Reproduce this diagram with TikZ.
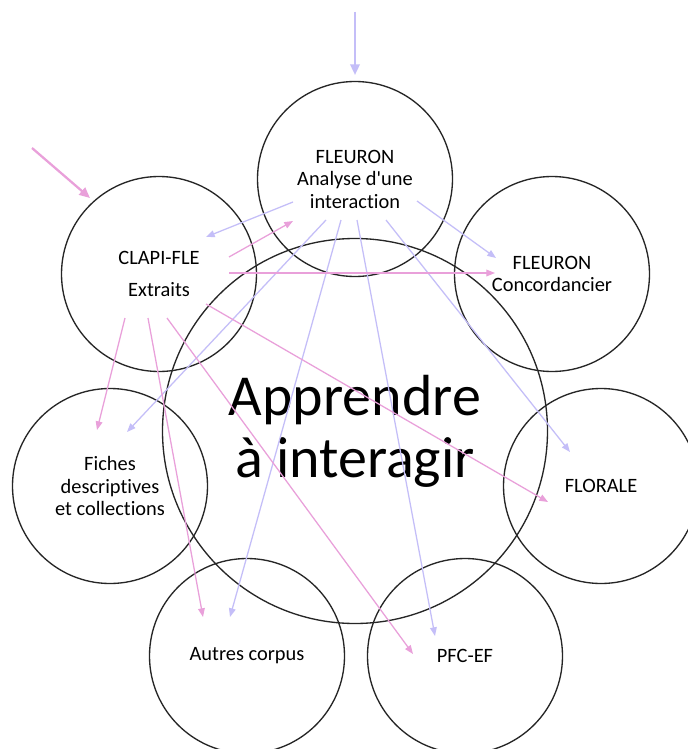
\documentclass[tikz,border=0pt]{standalone}
\usepackage{fontspec}
\setmainfont{Carlito}[Ligatures={NoCommon}]
\usetikzlibrary{arrows.meta}
\definecolor{lav}{RGB}{196,190,248}
\definecolor{pinkc}{RGB}{233,160,218}
\begin{document}
\begin{tikzpicture}[x=0.75pt,y=-0.75pt,
  bubble/.style={circle,draw=black!85,line width=1pt,minimum size=146.25pt,inner sep=0pt,
    align=center,font=\fontsize{15.3}{16.9}\selectfont},
  bigbubble/.style={circle,draw=black!85,line width=1pt,minimum size=288.75pt,inner sep=0pt,
    align=center,font=\fontsize{43.5}{46.5}\selectfont},
  lavarrow/.style={draw=lav,line width=0.95pt,-{Triangle[length=6.5pt,width=5pt]}},
  pinkarrow/.style={draw=pinkc,line width=0.95pt,-{Triangle[length=6.5pt,width=5pt]}},
  entry/.style={line width=1.7pt,-{Triangle[length=8pt,width=7pt]}}]
\useasboundingbox (0,0) rectangle (687,749);
\fill[white] (0,0) rectangle (687,749);
% circles
\node[bigbubble] (big) at (355,431) {Apprendre\\à interagir};
\node[bubble] (ana) at (355,179) {FLEURON\\Analyse d\textquotesingle une\\interaction};
\node[bubble] (conc) at (552,274) {FLEURON\\Concordancier};
\node[bubble] (clapi) at (159,274) {CLAPI-FLE\\[7.1pt]Extraits};
\node[bubble] (fiches) at (110,486) {\fontsize{15.3}{17.3}\selectfont Fiches\\descriptives\\et collections};
\node[bubble] (florale) at (601,486) {FLORALE};
\node[bubble] (autres) at (247,656) {Autres corpus};
\node[bubble] (pfc) at (465,656) {PFC-EF};
% lavender arrow end points
\coordinate (ls0) at (355,12);   \coordinate (le0) at (355,75);
\coordinate (ls1) at (293,202);  \coordinate (le1) at (206,237);
\coordinate (ls2) at (417,201);  \coordinate (le2) at (496,258);
\coordinate (ls3) at (326,220);  \coordinate (le3) at (127,432);
\coordinate (ls4) at (341,220);  \coordinate (le4) at (230,617);
\coordinate (ls5) at (357,220);  \coordinate (le5) at (435,636);
\coordinate (ls6) at (386,220);  \coordinate (le6) at (570,452);
% pink arrow end points
\coordinate (ps0) at (32,148);   \coordinate (pe0) at (90,198);
\coordinate (ps1) at (229,257);  \coordinate (pe1) at (293,221);
\coordinate (ps2) at (229,273);  \coordinate (pe2) at (495,273);
\coordinate (ps3) at (125,318);  \coordinate (pe3) at (97,430);
\coordinate (ps4) at (148,318);  \coordinate (pe4) at (203,617);
\coordinate (ps5) at (167,318);  \coordinate (pe5) at (413,654);
\coordinate (ps6) at (206,304);  \coordinate (pe6) at (548,502);
% arrows
\draw[lavarrow,entry] (ls0) -- (le0);
\foreach \i in {1,...,6} {\draw[lavarrow] (ls\i) -- (le\i);}
\draw[pinkarrow,entry] (ps0) -- (pe0);
\foreach \i in {1,...,6} {\draw[pinkarrow] (ps\i) -- (pe\i);}
\end{tikzpicture}
\end{document}
